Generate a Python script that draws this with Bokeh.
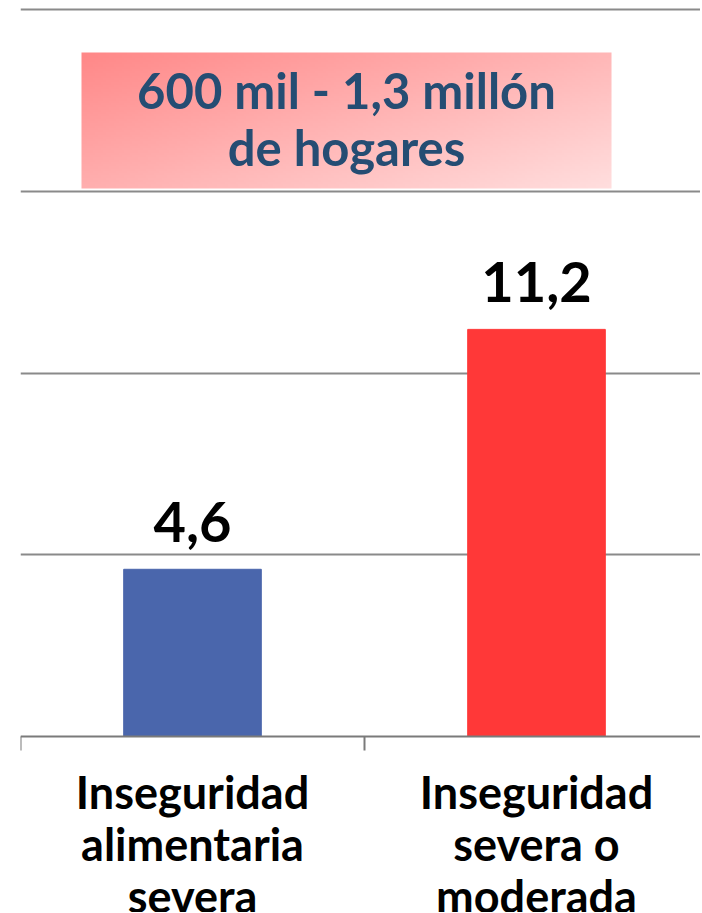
import numpy as np
from bokeh.plotting import figure
from bokeh.models import Range1d, FixedTicker, Span, ColumnDataSource
from bokeh.core.properties import value
from bokeh.embed import file_html
from bokeh.resources import INLINE

# ---- data ----
categories = ["Inseguridad\nalimentaria\nsevera", "Inseguridad\nsevera o\nmoderada"]
values = [4.6, 11.2]
value_labels = ["4,6", "11,2"]
bar_colors = ["#4A66AC", "#FF3838"]
grid_ticks = [5, 10, 15, 20]
callout_text = "600 mil - 1,3 millón\nde hogares"

FONT = "Lato"

# ---- layout (pixels) ----
W, H = 700, 912
x0_px = 20          # left end of the category axis
axis_px = 736       # pixel row of y = 0
cat_px = 344.0      # width of one category slot
unit_px = 36.35     # pixels per y unit

p = figure(width=W, height=H, output_backend="svg", toolbar_location=None,
           x_range=Range1d(0, (W - x0_px) / cat_px),
           y_range=Range1d(-(H - axis_px) / unit_px, axis_px / unit_px),
           min_border=0, min_border_left=x0_px)
p.outline_line_color = None
p.background_fill_color = "white"
p.border_fill_color = "white"
p.xaxis.visible = False
p.yaxis.visible = False
p.xgrid.visible = False

# horizontal gridlines
p.ygrid.ticker = FixedTicker(ticks=grid_ticks)
p.ygrid.grid_line_color = "#8A8A8A"
p.ygrid.grid_line_width = 2

AXIS_C = "#7A7A7A"
# category axis line and boundary ticks
p.add_layout(Span(location=0, dimension="width", line_color=AXIS_C, line_width=2))
bounds_x = list(range(len(values) + 1))
tick_len = 14 / unit_px
p.segment(x0=bounds_x, y0=[0] * len(bounds_x), x1=bounds_x, y1=[-tick_len] * len(bounds_x),
          line_color=AXIS_C, line_width=2)

xs = [i + 0.5 for i in range(len(values))]
lab_y = [v + 47 / unit_px for v in values]
src = ColumnDataSource(dict(x=xs, top=values, color=bar_colors, lab=value_labels, ly=lab_y))

# bars
p.vbar(x="x", top="top", bottom=0, width=0.40, color="color", source=src)

# value labels
p.text(x="x", y="ly", text="lab", source=src, text_align="center",
       text_baseline="alphabetic", text_font=value(FONT),
       text_font_style="bold", text_font_size="56px", text_color="black")

# callout box with gradient
bx0, bx1 = (81 - x0_px) / cat_px, (611 - x0_px) / cat_px
by1, by0 = (axis_px - 52) / unit_px, (axis_px - 188) / unit_px
nx, ny = 200, 60
gx = np.linspace(0, 1, nx)[None, :]
gy = np.linspace(0, 1, ny)[:, None]   # row 0 = bottom
t = np.clip(0.55 * gx + 0.45 * (1 - gy), 0, 1)  # 0 top-left, 1 bottom-right
c0 = np.array([255, 136, 136]); c1 = np.array([255, 222, 222])
r = (c0[0] + (c1[0] - c0[0]) * t).astype(np.uint32)
g = (c0[1] + (c1[1] - c0[1]) * t).astype(np.uint32)
b = (c0[2] + (c1[2] - c0[2]) * t).astype(np.uint32)
img = (np.uint32(255) << 24) | (b << 16) | (g << 8) | r
p.image_rgba(image=[img.astype(np.uint32)], x=bx0, y=by0, dw=bx1 - bx0, dh=by1 - by0)

p.text(x=[(bx0 + bx1) / 2], y=[(by0 + by1) / 2 + 2 / unit_px], text=[callout_text],
       text_align="center", text_baseline="middle", text_font=value(FONT),
       text_font_style="bold", text_font_size="49px", text_color="#254D73",
       text_line_height=0.99)

# category labels below the axis
p.text(x=xs, y=[-28 / unit_px] * len(xs), text=categories, text_align="center",
       text_baseline="top", text_font=value(FONT), text_font_style="bold",
       text_font_size="45px", text_color="black", text_line_height=0.963)

open("out.html", "w").write(file_html(p, INLINE))
